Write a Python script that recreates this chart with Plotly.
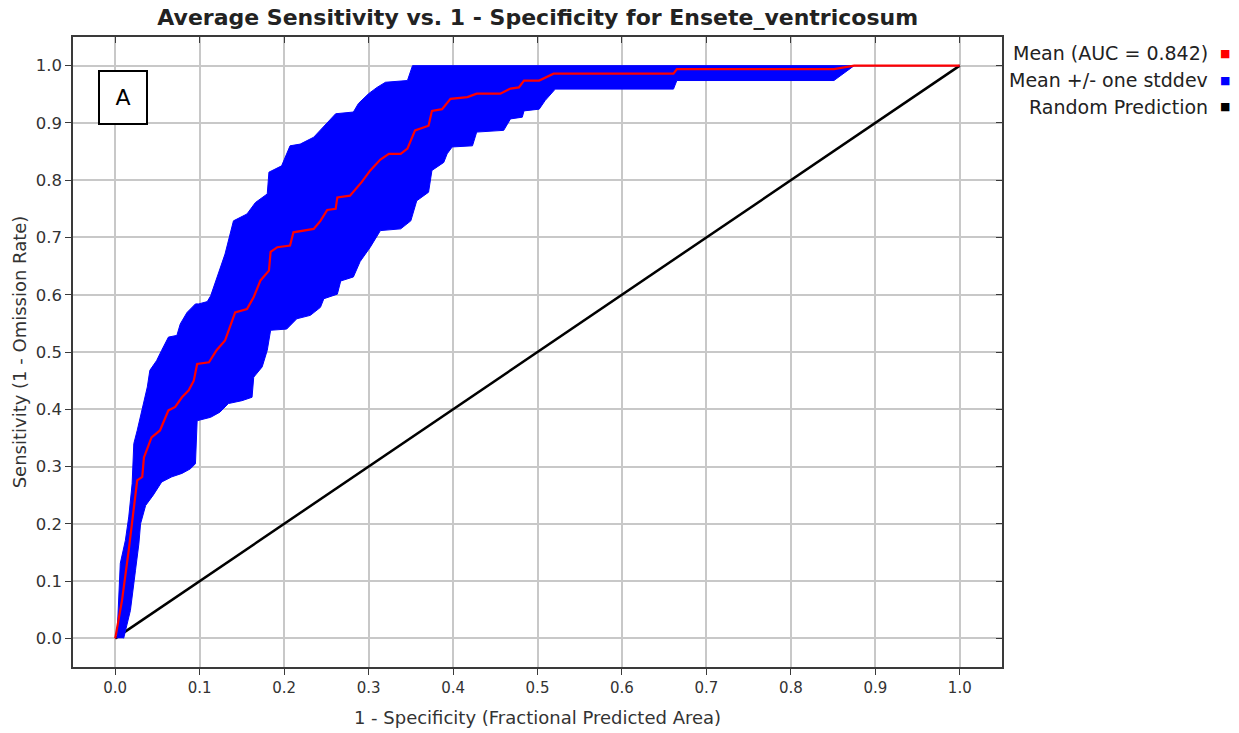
import plotly.graph_objects as go

# ---- data ----
mean_x = [0, 0.008, 0.016, 0.022, 0.026, 0.032, 0.034, 0.043, 0.053, 0.063, 0.071, 0.079, 0.087, 0.093, 0.097,
          0.111, 0.120, 0.130, 0.142, 0.156, 0.164, 0.172, 0.182, 0.184, 0.192, 0.207, 0.211, 0.235, 0.243, 0.251,
          0.261, 0.263, 0.278, 0.292, 0.302, 0.314, 0.324, 0.338, 0.346, 0.355, 0.371, 0.375, 0.387, 0.397, 0.417,
          0.428, 0.456, 0.468, 0.478, 0.484, 0.502, 0.519, 0.661, 0.665, 0.851, 0.875, 1.0]
mean_y = [0, 0.066, 0.154, 0.223, 0.276, 0.282, 0.316, 0.351, 0.363, 0.398, 0.404, 0.421, 0.433, 0.450, 0.479,
          0.482, 0.503, 0.520, 0.569, 0.575, 0.596, 0.625, 0.642, 0.675, 0.683, 0.686, 0.709, 0.715, 0.729, 0.748,
          0.750, 0.770, 0.773, 0.797, 0.817, 0.836, 0.846, 0.846, 0.855, 0.887, 0.895, 0.921, 0.924, 0.942, 0.945,
          0.951, 0.951, 0.960, 0.962, 0.974, 0.974, 0.986, 0.986, 0.994, 0.994, 1.0, 1.0]

upper_x = [0.002, 0.004, 0.006, 0.012, 0.016, 0.020, 0.022, 0.026, 0.032, 0.038, 0.041, 0.049, 0.055, 0.063, 0.073,
           0.077, 0.085, 0.095, 0.099, 0.109, 0.113, 0.118, 0.124, 0.130, 0.140, 0.156, 0.166, 0.180, 0.182, 0.197,
           0.207, 0.219, 0.235, 0.251, 0.261, 0.282, 0.288, 0.300, 0.310, 0.320, 0.346, 0.352, 1.0]
upper_y = [0.0, 0.061, 0.131, 0.171, 0.212, 0.270, 0.340, 0.363, 0.404, 0.439, 0.468, 0.485, 0.503, 0.526, 0.529,
           0.549, 0.569, 0.584, 0.584, 0.588, 0.598, 0.619, 0.642, 0.671, 0.729, 0.741, 0.761, 0.776, 0.814, 0.825,
           0.860, 0.863, 0.875, 0.901, 0.916, 0.919, 0.934, 0.951, 0.962, 0.971, 0.974, 1.0, 1.0]

lower_x = [0.010, 0.018, 0.024, 0.028, 0.030, 0.036, 0.045, 0.055, 0.067, 0.079, 0.089, 0.095, 0.097, 0.113, 0.124,
           0.134, 0.150, 0.162, 0.164, 0.174, 0.180, 0.184, 0.203, 0.215, 0.231, 0.243, 0.247, 0.263, 0.267, 0.282,
           0.290, 0.302, 0.314, 0.338, 0.350, 0.357, 0.371, 0.375, 0.389, 0.393, 0.399, 0.423, 0.428, 0.460, 0.468,
           0.482, 0.484, 0.502, 0.509, 0.521, 0.661, 0.665, 0.851, 0.875, 1.0]
lower_y = [0.0, 0.049, 0.119, 0.165, 0.200, 0.232, 0.250, 0.273, 0.282, 0.288, 0.296, 0.305, 0.380, 0.386, 0.395,
           0.410, 0.415, 0.421, 0.456, 0.474, 0.503, 0.538, 0.540, 0.558, 0.564, 0.578, 0.593, 0.601, 0.624, 0.631,
           0.658, 0.683, 0.712, 0.715, 0.729, 0.764, 0.779, 0.817, 0.831, 0.846, 0.858, 0.860, 0.884, 0.887, 0.907,
           0.910, 0.921, 0.924, 0.939, 0.959, 0.959, 0.974, 0.974, 1.0, 1.0]

random_x = [0.0, 1.0]
random_y = [0.0, 1.0]

tick_vals = [0.0, 0.1, 0.2, 0.3, 0.4, 0.5, 0.6, 0.7, 0.8, 0.9, 1.0]
tick_text = ["0.0", "0.1", "0.2", "0.3", "0.4", "0.5", "0.6", "0.7", "0.8", "0.9", "1.0"]

legend_labels = ["Mean (AUC = 0.842)", "Mean +/- one stddev", "Random Prediction"]
legend_colors = ["#ff0000", "#0000ff", "#000000"]

title_text = "Average Sensitivity vs. 1 - Specificity for Ensete_ventricosum"
x_title = "1 - Specificity (Fractional Predicted Area)"
y_title = "Sensitivity (1 - Omission Rate)"
panel_label = "A"

FONT = "DejaVu Sans"

fig = go.Figure()
fig.add_trace(go.Scatter(x=random_x, y=random_y, mode="lines",
                         line=dict(color="black", width=2.5), hoverinfo="skip"))
band_x = upper_x + lower_x[::-1]
band_y = upper_y + lower_y[::-1]
fig.add_trace(go.Scatter(x=band_x, y=band_y, mode="lines", fill="toself",
                         fillcolor="#0000ff", line=dict(color="#0000ff", width=1)))
fig.add_trace(go.Scatter(x=mean_x, y=mean_y, mode="lines",
                         line=dict(color="#ff0000", width=2.2)))
# helper trace for the mirrored (top/right) axes
fig.add_trace(go.Scatter(x=[None], y=[None], xaxis="x2", yaxis="y2", hoverinfo="skip"))

axis_common = dict(range=[-0.05, 1.05], tickvals=tick_vals, ticktext=tick_text,
                   showgrid=True, gridcolor="#c8c8c8", gridwidth=1.5, zeroline=False,
                   showline=True, linecolor="#3a3a3a", linewidth=1.5, mirror=True,
                   ticks="outside", ticklen=6, tickcolor="#3a3a3a", tickwidth=1.2,
                   automargin=False)

fig.update_layout(
    width=1239, height=733,
    margin=dict(l=73, r=237, t=37, b=66),
    paper_bgcolor="white", plot_bgcolor="white",
    showlegend=False,
    title=dict(text="<b>" + title_text + "</b>", x=0.434, xanchor="center",
               y=1 - 17 / 733, yanchor="middle", yref="container",
               font=dict(family=FONT, size=22, color="#222222")),
    xaxis=dict(**axis_common,
               tickfont=dict(family=FONT, size=15, color="#333333"),
               title=dict(text=x_title, standoff=16,
                          font=dict(family=FONT, size=18, color="#333333"))),
    yaxis=dict(**axis_common,
               tickfont=dict(family=FONT, size=16.5, color="#333333"),
               title=dict(text=y_title, standoff=4,
                          font=dict(family=FONT, size=18, color="#333333"))),
    xaxis2=dict(range=[-0.05, 1.05], tickvals=tick_vals, overlaying="x", side="top",
                showticklabels=False, showgrid=False, zeroline=False, showline=False,
                ticks="inside", ticklen=6, tickcolor="#3a3a3a", tickwidth=1.2, anchor="y2",
                automargin=False),
    yaxis2=dict(range=[-0.05, 1.05], tickvals=tick_vals, overlaying="y", side="right",
                showticklabels=False, showgrid=False, zeroline=False, showline=False,
                ticks="inside", ticklen=6, tickcolor="#3a3a3a", tickwidth=1.2, anchor="x2",
                automargin=False),
)

# legend drawn as text with the colour key on the right
row_y = [0.9746, 0.9317, 0.8889]
for lab, col, yy in zip(legend_labels, legend_colors, row_y):
    fig.add_annotation(text=lab, xref="paper", yref="paper", x=1.2239, y=yy,
                       xanchor="right", yanchor="middle", showarrow=False,
                       font=dict(family=FONT, size=19, color="#222222"))
    fig.add_annotation(text="■", xref="paper", yref="paper", x=1.2400, y=yy,
                       xanchor="center", yanchor="middle", showarrow=False,
                       font=dict(family=FONT, size=11, color=col))

fig.add_annotation(text=panel_label, xref="paper", yref="paper", x=0.0538, y=0.904,
                   xanchor="center", yanchor="middle", showarrow=False,
                   width=46, height=51, borderpad=0, bordercolor="black", borderwidth=2,
                   bgcolor="white", font=dict(family=FONT, size=22, color="black"))

fig.write_html("out.html")
